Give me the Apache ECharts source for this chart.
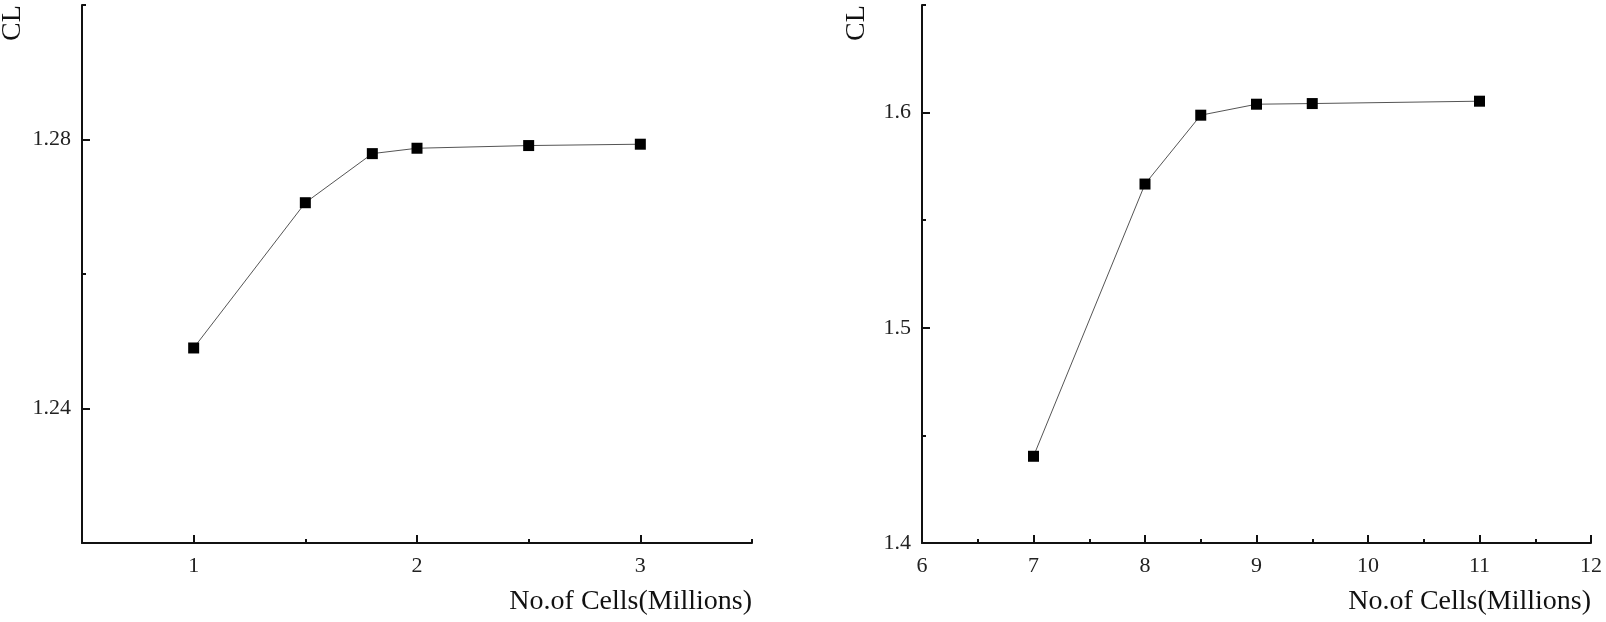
<!DOCTYPE html>
<html>
<head>
<meta charset="utf-8">
<script src="https://cdn.jsdelivr.net/npm/echarts@6/dist/echarts.min.js"></script>
<style>html,body{margin:0;padding:0;background:#fff;}#c{width:1606px;height:622px;}</style>
</head>
<body>
<div id="c"></div>
<script>
// ---- data ----
const leftCells = [1, 1.5, 1.8, 2, 2.5, 3];
const leftCL = [1.2490, 1.2706, 1.2779, 1.2787, 1.2791, 1.2793];
const rightCells = [7, 8, 8.5, 9, 9.5, 11];
const rightCL = [1.4403, 1.5668, 1.5988, 1.6039, 1.6042, 1.6053];

const leftXLabels = [1, 2, 3];
const leftXMinor = [1.5, 2.5, 3.5];
const leftYLabels = [1.24, 1.28];
const leftYMinor = [1.22, 1.26, 1.30];
const rightYLabels = [1.4, 1.5, 1.6];
const rightYMajor = [1.5, 1.6];
const rightYMinor = [1.45, 1.55, 1.65];

const xTitle = 'No.of Cells(Millions)';
const yTitle = 'CL';

const serif = '"Liberation Serif", "DejaVu Serif", serif';
const axisColor = '#111';
const labelStyle = { color: '#222', fontFamily: serif, fontSize: 22 };

function mainX(grid, min, max, extra) {
  return Object.assign({
    type: 'value', gridIndex: grid, position: 'bottom', min: min, max: max,
    axisLine: { show: true, onZero: false, lineStyle: { color: axisColor, width: 2 } },
    axisTick: { show: true, inside: true, length: 8, lineStyle: { color: axisColor, width: 2 } },
    axisLabel: Object.assign({ margin: 12 }, labelStyle),
    splitLine: { show: false },
    name: xTitle, nameLocation: 'end', nameGap: 0,
    nameTextStyle: { fontFamily: serif, fontSize: 28, color: '#111', align: 'right', verticalAlign: 'top', padding: [45, 0, 0, 0] }
  }, extra);
}
function minorAxis(type, grid, min, max, vals, pos) {
  return {
    type: 'value', gridIndex: grid, position: pos, min: min, max: max, offset: 0,
    axisLine: { show: false, onZero: false },
    axisTick: { show: true, inside: true, length: 4, customValues: vals, lineStyle: { color: axisColor, width: 2 } },
    axisLabel: { show: false },
    splitLine: { show: false }
  };
}
function mainY(grid, min, max, ticks, labels, extra) {
  return Object.assign({
    type: 'value', gridIndex: grid, position: 'left', min: min, max: max,
    axisLine: { show: true, onZero: false, lineStyle: { color: axisColor, width: 2 } },
    axisTick: { show: true, inside: true, length: 8, customValues: ticks, lineStyle: { color: axisColor, width: 2 } },
    axisLabel: Object.assign({ margin: 11, customValues: labels }, labelStyle),
    splitLine: { show: false }
  }, extra);
}

const chart = echarts.init(document.getElementById('c'), null, { renderer: 'canvas' });
chart.setOption({
  animation: false,
  backgroundColor: '#fff',
  grid: [
    { left: 82, right: 854, top: 5, bottom: 79 },
    { left: 922, right: 15, top: 5, bottom: 79 }
  ],
  xAxis: [
    mainX(0, 0.5, 3.5, { axisTick: { show: true, inside: true, length: 8, customValues: leftXLabels, lineStyle: { color: axisColor, width: 2 } },
                         axisLabel: Object.assign({ margin: 12, customValues: leftXLabels }, labelStyle) }),
    minorAxis('x', 0, 0.5, 3.5, leftXMinor, 'bottom'),
    mainX(1, 6, 12, { interval: 1, minorTick: { show: true, splitNumber: 2, length: 4, lineStyle: { color: axisColor, width: 2 } } })
  ],
  yAxis: [
    mainY(0, 1.22, 1.30, leftYLabels, leftYLabels),
    minorAxis('y', 0, 1.22, 1.30, leftYMinor, 'left'),
    mainY(1, 1.4, 1.65, rightYMajor, rightYLabels),
    minorAxis('y', 1, 1.4, 1.65, rightYMinor, 'left')
  ],
  graphic: [
    { type: 'text', x: 13, y: 23, rotation: Math.PI / 2,
      style: { text: yTitle, fontFamily: serif, fontSize: 28, fill: '#111', align: 'center', verticalAlign: 'middle' } },
    { type: 'text', x: 857, y: 23, rotation: Math.PI / 2,
      style: { text: yTitle, fontFamily: serif, fontSize: 28, fill: '#111', align: 'center', verticalAlign: 'middle' } }
  ],
  series: [
    { type: 'line', xAxisIndex: 0, yAxisIndex: 0,
      data: leftCells.map((x, i) => [x, leftCL[i]]),
      symbol: 'rect', symbolSize: 11,
      lineStyle: { color: '#555', width: 1 },
      itemStyle: { color: '#000' } },
    { type: 'line', xAxisIndex: 2, yAxisIndex: 2,
      data: rightCells.map((x, i) => [x, rightCL[i]]),
      symbol: 'rect', symbolSize: 11,
      lineStyle: { color: '#555', width: 1 },
      itemStyle: { color: '#000' } }
  ]
});
</script>
</body>
</html>
